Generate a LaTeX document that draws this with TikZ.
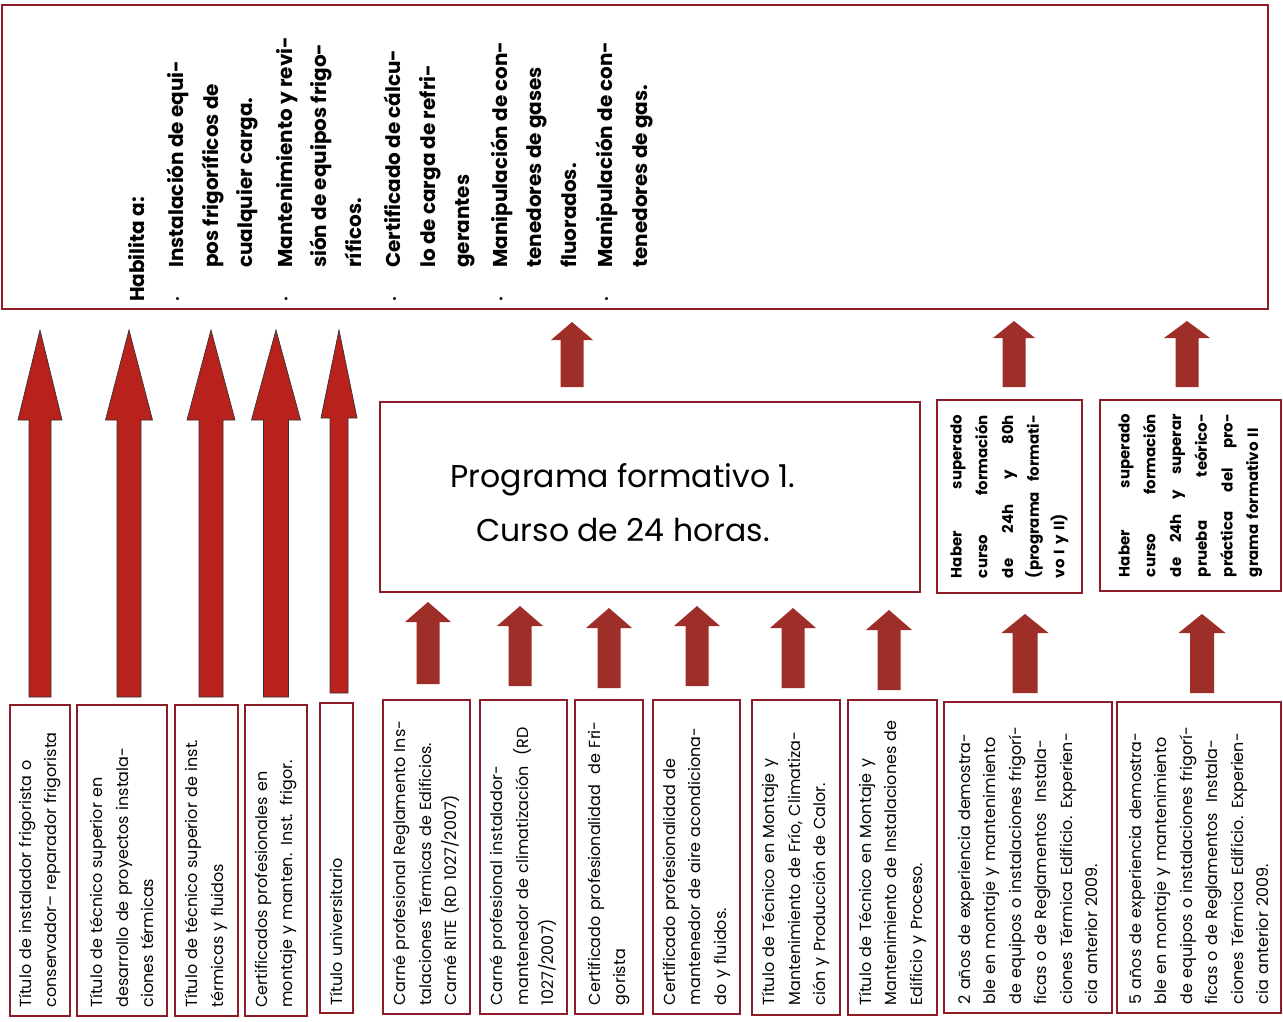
\documentclass[tikz,border=0pt]{standalone}
\usepackage{fontspec}
\setmainfont{Poppins}
\usetikzlibrary{calc}
\definecolor{boxred}{RGB}{140,28,40}
\definecolor{arrred}{RGB}{158,47,40}
\definecolor{longred}{RGB}{185,33,28}
\newcommand\blockarrow[6]{%
  \path[#1] let \p1=(#2), \p2=(#3) in
    (\x1-#4,\y1) -- (\x1-#4,\y2-#6) -- (\x1-#5,\y2-#6) -- (\x2,\y2) --
    (\x1+#5,\y2-#6) -- (\x1+#4,\y2-#6) -- (\x1+#4,\y1) -- cycle;}
\newcommand\J[1]{\leavevmode\hbox to 163pt{#1}}
\newcommand\BL{\makebox[34pt][l]{\raisebox{2pt}{\mdseries\fontsize{12}{12}\selectfont\textbullet}}}
\newcommand\IN{\hspace*{34pt}}
\tikzset{
  bx/.style={draw=boxred, line width=1.8pt, rotate=90, inner sep=0pt, align=left,
    font=\fontsize{16}{25.5}\selectfont},
  bxb/.style={bx, font=\bfseries\fontsize{15}{25.7}\selectfont},
  smallarr/.style={fill=arrred},
  longarr/.style={fill=longred, draw=black!80, line width=0.7pt},
}
\begin{document}
\begin{tikzpicture}[x=1pt,y=-1pt]
\useasboundingbox (0,0) rectangle (1283,1022);
\fill[white] (0,0) rectangle (1283,1022);

% top box
\node[draw=boxred, line width=1.8pt, minimum width=1266pt, minimum height=304pt, inner sep=0pt] (hab) at (635,157) {};
\node[rotate=90, anchor=north west, inner sep=0pt, align=left,
      font=\bfseries\fontsize{20}{34.5}\selectfont] (habt) at (128,302)
 {Habilita a:\\[5pt]
  \BL Instalación de equi-\\
  \IN pos frigoríficos de\\
  \IN cualquier carga.\\[5pt]
  \BL Mantenimiento y revi-\\
  \IN sión de equipos frigo-\\
  \IN ríficos.\\[5pt]
  \BL Certificado de cálcu-\\
  \IN lo de carga de refri-\\
  \IN gerantes\\[3pt]
  \BL Manipulación de con-\\
  \IN tenedores de gases\\
  \IN fluorados.\\[2pt]
  \BL Manipulación de con-\\
  \IN tenedores de gas.};

% programa box
\node[draw=boxred, line width=1.8pt, minimum width=540pt, minimum height=190pt] (prog) at (650,497) {};
\node[align=center, inner sep=0pt, font=\fontsize{31.5}{54}\selectfont] (progt) at (623,503)
 {Programa formativo 1.\\Curso de 24 horas.};

% right upper boxes
\node[bxb, minimum width=193pt, minimum height=145pt, text width=163pt] (hA) at (1009.5,496.5)
 {\J{Haber\hfill superado}\\\J{curso\hfill formación}\\\J{de\hfill 24h\hfill y\hfill 80h}\\\J{(programa\hfill formati-}\\vo I y II)};
\node[bxb, minimum width=191pt, minimum height=181pt, text width=163pt] (hB) at (1190.5,495.5)
 {\J{Haber\hfill superado}\\\J{curso\hfill formación}\\\J{de\hfill 24h\hfill y\hfill superar}\\\J{prueba\hfill teórico-}\\\J{práctica\hfill del\hfill pro-}\\grama formativo II};

% bottom boxes
\node[bx, minimum width=311pt, minimum height=60pt, text width=294pt] (b1) at (40,860.5)
 {Título de instalador frigorista o\\conservador– reparador frigorista};
\node[bx, minimum width=311pt, minimum height=90pt, text width=294pt] (b2) at (122,860.5)
 {Título de técnico superior en\\desarrollo de proyectos instala-\\ciones térmicas};
\node[bx, minimum width=311pt, minimum height=63pt, text width=294pt] (b3) at (206.5,860.5)
 {Título de técnico superior de inst.\\térmicas y fluidos};
\node[bx, minimum width=311pt, minimum height=62pt, text width=294pt] (b4) at (276,860.5)
 {Certificados profesionales en\\montaje y manten. Inst. frigor.};
\node[bx, minimum width=310pt, minimum height=33pt, text width=294pt] (b5) at (336.5,858)
 {Título universitario};
\node[bx, minimum width=314pt, minimum height=87pt, text width=296pt] (b6) at (426.5,857)
 {Carné profesional Reglamento Ins-\\talaciones Térmicas de Edificios.\\Carné RITE (RD 1027/2007)};
\node[bx, minimum width=314pt, minimum height=87pt, text width=296pt] (b7) at (523.5,857)
 {Carné profesional instalador-\\mantenedor de climatización~~(RD\\1027/2007)};
\node[bx, minimum width=314pt, minimum height=68pt, text width=296pt] (b8) at (609,857)
 {Certificado profesionalidad~~de Fri-\\gorista};
\node[bx, minimum width=314pt, minimum height=87pt, text width=296pt] (b9) at (696.5,857)
 {Certificado profesionalidad de\\mantenedor de aire acondiciona-\\do y fluidos.};
\node[bx, minimum width=315pt, minimum height=88pt, text width=296pt] (b10) at (796,857.5)
 {Título de Técnico en Montaje y\\Mantenimiento de Frío, Climatiza-\\ción y Producción de Calor.};
\node[bx, minimum width=315pt, minimum height=89pt, text width=296pt] (b11) at (892.5,857.5)
 {Título de Técnico en Montaje y\\Mantenimiento de Instalaciones de\\Edificio y Proceso.};
\node[bx, minimum width=311pt, minimum height=168pt, text width=294pt] (b12) at (1028,857.5)
 {2 años de experiencia demostra-\\ble en montaje y mantenimiento\\de equipos o instalaciones frigorí-\\ficas o de Reglamentos~~Instala-\\ciones Térmica Edificio. Experien-\\cia anterior 2009.};
\node[bx, minimum width=311pt, minimum height=164pt, text width=294pt] (b13) at (1199,857.5)
 {5 años de experiencia demostra-\\ble en montaje y mantenimiento\\de equipos o instalaciones frigorí-\\ficas o de Reglamentos~~Instala-\\ciones Térmica Edificio. Experien-\\cia anterior 2009.};

% arrow coordinates
\coordinate (a1b) at (40,697);  \coordinate (a1t) at (40,330);
\coordinate (a2b) at (129,697); \coordinate (a2t) at (129,330);
\coordinate (a3b) at (211,697); \coordinate (a3t) at (211,330);
\coordinate (a4b) at (276,697); \coordinate (a4t) at (276,330);
\coordinate (a5b) at (339,693); \coordinate (a5t) at (339,330);
\coordinate (s1b) at (428,684); \coordinate (s1t) at (428,602);
\coordinate (s2b) at (520,686); \coordinate (s2t) at (520,606);
\coordinate (s3b) at (609,688); \coordinate (s3t) at (609,608);
\coordinate (s4b) at (697,686); \coordinate (s4t) at (697,606);
\coordinate (s5b) at (793,688); \coordinate (s5t) at (793,608);
\coordinate (s6b) at (889,690); \coordinate (s6t) at (889,610);
\coordinate (s7b) at (572,387); \coordinate (s7t) at (572,322);
\coordinate (s8b) at (1014,387); \coordinate (s8t) at (1014,321);
\coordinate (s9b) at (1187,387); \coordinate (s9t) at (1187,321);
\coordinate (s10b) at (1025,693); \coordinate (s10t) at (1025,614);
\coordinate (s11b) at (1202,693); \coordinate (s11t) at (1202,614);

% long arrows
\blockarrow{longarr}{a1b}{a1t}{11pt}{22pt}{90pt}
\blockarrow{longarr}{a2b}{a2t}{12pt}{23.5pt}{90pt}
\blockarrow{longarr}{a3b}{a3t}{12pt}{24pt}{90pt}
\blockarrow{longarr}{a4b}{a4t}{12.5pt}{24.5pt}{90pt}
\blockarrow{longarr}{a5b}{a5t}{9pt}{18pt}{88pt}

% small arrows
\blockarrow{smallarr}{s1b}{s1t}{11.5pt}{23pt}{20pt}
\blockarrow{smallarr}{s2b}{s2t}{11.5pt}{23pt}{20pt}
\blockarrow{smallarr}{s3b}{s3t}{11.5pt}{23pt}{20pt}
\blockarrow{smallarr}{s4b}{s4t}{11.5pt}{23pt}{20pt}
\blockarrow{smallarr}{s5b}{s5t}{11.5pt}{23pt}{20pt}
\blockarrow{smallarr}{s6b}{s6t}{11.5pt}{23pt}{20pt}
\blockarrow{smallarr}{s7b}{s7t}{11.5pt}{21pt}{18pt}
\blockarrow{smallarr}{s8b}{s8t}{11.5pt}{21pt}{17pt}
\blockarrow{smallarr}{s9b}{s9t}{11.5pt}{23pt}{17pt}
\blockarrow{smallarr}{s10b}{s10t}{12.5pt}{23.5pt}{19pt}
\blockarrow{smallarr}{s11b}{s11t}{12pt}{23.5pt}{19pt}
\end{tikzpicture}
\end{document}
